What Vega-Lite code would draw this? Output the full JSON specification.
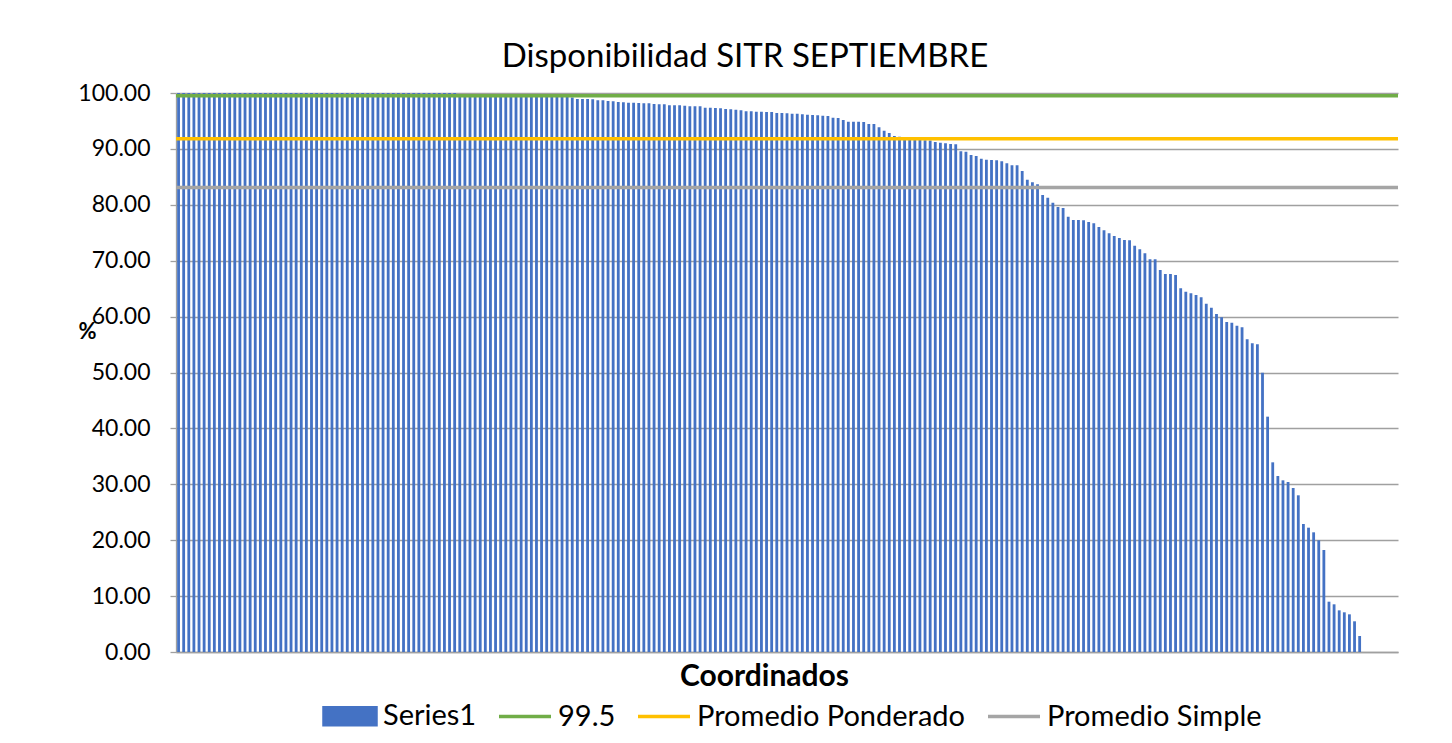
{
  "$schema": "https://vega.github.io/schema/vega-lite/v6.json",
  "autosize": {"type": "none"},
  "width": 1222,
  "height": 559,
  "padding": {"left": 176, "top": 93, "right": 54, "bottom": 91},
  "background": "white",
  "title": {
    "text": "Disponibilidad SITR SEPTIEMBRE",
    "font": "Lato", "fontSize": 33, "fontWeight": "normal", "color": "#000000",
    "anchor": "middle", "dx": -42, "dy": 42, "offset": 24, "baseline": "alphabetic"
  },
  "config": {
    "view": {"stroke": null},
    "axis": {"labelFont": "Lato", "titleFont": "Lato"}
  },
  "datasets": {
    "bars": [
      {"i":1,"v":100},{"i":2,"v":100},{"i":3,"v":100},{"i":4,"v":100},{"i":5,"v":100},{"i":6,"v":100},{"i":7,"v":100},{"i":8,"v":100},{"i":9,"v":100},{"i":10,"v":100},
      {"i":11,"v":100},{"i":12,"v":100},{"i":13,"v":100},{"i":14,"v":100},{"i":15,"v":100},{"i":16,"v":100},{"i":17,"v":100},{"i":18,"v":100},{"i":19,"v":100},{"i":20,"v":100},
      {"i":21,"v":100},{"i":22,"v":100},{"i":23,"v":100},{"i":24,"v":100},{"i":25,"v":100},{"i":26,"v":100},{"i":27,"v":100},{"i":28,"v":100},{"i":29,"v":100},{"i":30,"v":100},
      {"i":31,"v":100},{"i":32,"v":100},{"i":33,"v":100},{"i":34,"v":100},{"i":35,"v":100},{"i":36,"v":100},{"i":37,"v":100},{"i":38,"v":100},{"i":39,"v":100},{"i":40,"v":100},
      {"i":41,"v":100},{"i":42,"v":100},{"i":43,"v":100},{"i":44,"v":100},{"i":45,"v":100},{"i":46,"v":100},{"i":47,"v":100},{"i":48,"v":100},{"i":49,"v":100},{"i":50,"v":100},
      {"i":51,"v":100},{"i":52,"v":100},{"i":53,"v":100},{"i":54,"v":100},{"i":55,"v":100},{"i":56,"v":99.7},{"i":57,"v":99.7},{"i":58,"v":99.7},{"i":59,"v":99.7},{"i":60,"v":99.7},
      {"i":61,"v":99.7},{"i":62,"v":99.7},{"i":63,"v":99.7},{"i":64,"v":99.7},{"i":65,"v":99.7},{"i":66,"v":99.7},{"i":67,"v":99.6},{"i":68,"v":99.6},{"i":69,"v":99.6},{"i":70,"v":99.6},
      {"i":71,"v":99.6},{"i":72,"v":99.6},{"i":73,"v":99.5},{"i":74,"v":99.5},{"i":75,"v":99.5},{"i":76,"v":99.4},{"i":77,"v":99.3},{"i":78,"v":99.2},
      {"i":79,"v":98.93},{"i":80,"v":98.93},{"i":81,"v":98.93},{"i":82,"v":98.9},{"i":83,"v":98.69},{"i":84,"v":98.69},{"i":85,"v":98.57},{"i":86,"v":98.51},{"i":87,"v":98.39},{"i":88,"v":98.33},
      {"i":89,"v":98.27},{"i":90,"v":98.27},{"i":91,"v":98.21},{"i":92,"v":98.15},{"i":93,"v":98.15},{"i":94,"v":98.03},{"i":95,"v":97.97},{"i":96,"v":97.97},{"i":97,"v":97.79},{"i":98,"v":97.79},
      {"i":99,"v":97.79},{"i":100,"v":97.73},{"i":101,"v":97.62},{"i":102,"v":97.62},{"i":103,"v":97.62},{"i":104,"v":97.38},{"i":105,"v":97.38},{"i":106,"v":97.32},{"i":107,"v":97.26},{"i":108,"v":97.14},
      {"i":109,"v":97.08},{"i":110,"v":97.02},{"i":111,"v":96.9},{"i":112,"v":96.72},{"i":113,"v":96.72},{"i":114,"v":96.66},{"i":115,"v":96.66},{"i":116,"v":96.6},{"i":117,"v":96.6},{"i":118,"v":96.42},
      {"i":119,"v":96.42},{"i":120,"v":96.36},{"i":121,"v":96.3},{"i":122,"v":96.3},{"i":123,"v":96.18},{"i":124,"v":96.12},{"i":125,"v":96.06},{"i":126,"v":96.0},{"i":127,"v":95.95},{"i":128,"v":95.89},
      {"i":129,"v":95.59},{"i":130,"v":95.53},{"i":131,"v":95.17},{"i":132,"v":94.87},{"i":133,"v":94.87},{"i":134,"v":94.87},{"i":135,"v":94.81},{"i":136,"v":94.45},{"i":137,"v":94.45},{"i":138,"v":93.86},
      {"i":139,"v":93.26},{"i":140,"v":92.84},{"i":141,"v":92.31},{"i":142,"v":92.19},{"i":143,"v":91.9},{"i":144,"v":91.8},{"i":145,"v":91.7},{"i":146,"v":91.6},{"i":147,"v":91.55},{"i":148,"v":91.5},
      {"i":149,"v":91.23},{"i":150,"v":91.12},{"i":151,"v":91.0},{"i":152,"v":90.88},{"i":153,"v":90.82},{"i":154,"v":89.56},{"i":155,"v":89.5},{"i":156,"v":88.91},{"i":157,"v":88.73},{"i":158,"v":88.25},
      {"i":159,"v":88.07},{"i":160,"v":88.01},{"i":161,"v":87.95},{"i":162,"v":87.78},{"i":163,"v":87.42},{"i":164,"v":87.06},{"i":165,"v":87.06},{"i":166,"v":86.05},{"i":167,"v":84.5},{"i":168,"v":84.02},
      {"i":169,"v":83.66},{"i":170,"v":81.75},{"i":171,"v":81.28},{"i":172,"v":80.38},{"i":173,"v":79.61},{"i":174,"v":79.43},{"i":175,"v":77.88},{"i":176,"v":77.28},{"i":177,"v":77.28},{"i":178,"v":77.22},
      {"i":179,"v":76.92},{"i":180,"v":76.68},{"i":181,"v":76.03},{"i":182,"v":75.43},{"i":183,"v":74.9},{"i":184,"v":74.42},{"i":185,"v":74.06},{"i":186,"v":73.7},{"i":187,"v":73.64},{"i":188,"v":72.69},
      {"i":189,"v":72.03},{"i":190,"v":71.32},{"i":191,"v":70.24},{"i":192,"v":70.24},{"i":193,"v":68.34},{"i":194,"v":67.62},{"i":195,"v":67.62},{"i":196,"v":67.44},{"i":197,"v":65.06},{"i":198,"v":64.46},
      {"i":199,"v":64.16},{"i":200,"v":63.86},{"i":201,"v":63.45},{"i":202,"v":62.31},{"i":203,"v":61.6},{"i":204,"v":60.47},{"i":205,"v":59.87},{"i":206,"v":59.03},{"i":207,"v":58.91},{"i":208,"v":58.38},
      {"i":209,"v":58.08},{"i":210,"v":55.93},{"i":211,"v":55.22},{"i":212,"v":55.04},{"i":213,"v":49.97},{"i":214,"v":42.1},{"i":215,"v":33.93},{"i":216,"v":31.48},{"i":217,"v":30.71},{"i":218,"v":30.41},
      {"i":219,"v":29.34},{"i":220,"v":28.03},{"i":221,"v":22.9},{"i":222,"v":22.24},{"i":223,"v":21.41},{"i":224,"v":19.98},{"i":225,"v":18.25},{"i":226,"v":9.0},{"i":227,"v":8.53},{"i":228,"v":7.45},
      {"i":229,"v":7.1},{"i":230,"v":6.74},{"i":231,"v":5.49},{"i":232,"v":2.86},
      {"i":233,"v":0},{"i":234,"v":0},{"i":235,"v":0},{"i":236,"v":0},{"i":237,"v":0},{"i":238,"v":0},{"i":239,"v":0}
    ],
    "lines": [
      {"serie": "99.5", "v": 99.5},
      {"serie": "Promedio Ponderado", "v": 91.8},
      {"serie": "Promedio Simple", "v": 83.1}
    ]
  },
  "layer": [
    {
      "data": {"name": "bars"},
      "mark": {"type": "bar"},
      "encoding": {
        "x": {
          "field": "i", "type": "ordinal",
          "scale": {"paddingInner": 0.45, "paddingOuter": 0.225},
          "axis": {
            "labels": false, "ticks": false, "domain": true, "domainColor": "#a0a0a0", "domainWidth": 1.3,
            "title": "Coordinados", "titleFontSize": 30, "titleFontWeight": "bold", "titleColor": "#000000",
            "titleX": 588, "titleY": 33, "titleBaseline": "alphabetic", "titleAlign": "center"
          }
        },
        "y": {
          "field": "v", "type": "quantitative",
          "scale": {"domain": [0, 100], "nice": false},
          "axis": {
            "values": [0, 10, 20, 30, 40, 50, 60, 70, 80, 90, 100],
            "format": ".2f", "grid": true, "gridColor": "#a0a0a0", "gridWidth": 1.3,
            "domain": true, "domainColor": "#a0a0a0", "domainWidth": 1.3,
            "ticks": true, "tickSize": 6, "tickColor": "#a0a0a0", "tickWidth": 1.3,
            "labelFontSize": 23, "labelColor": "#000000", "labelPadding": 20,
            "title": "%", "titleAngle": 0, "titleFontSize": 22, "titleFontWeight": "bold", "titleColor": "#000000",
            "titleX": -89, "titleY": 245, "titleAlign": "center", "titleBaseline": "alphabetic"
          }
        },
        "color": {
          "datum": "Series1", "type": "nominal", "title": null,
          "scale": {
            "domain": ["Series1", "99.5", "Promedio Ponderado", "Promedio Simple"],
            "range": ["#4472C4", "#70AD47", "#FFC000", "#A5A5A5"]
          },
          "legend": {
            "orient": "none", "legendX": 146, "legendY": 595, "direction": "horizontal", "title": null,
            "labelFont": "Lato", "labelFontSize": 29, "labelColor": "#000000", "labelOffset": 5, "labelLimit": 500,
            "columnPadding": 15, "symbolSize": 2704, "symbolType": "stroke", "symbolStrokeWidth": 3.5,
            "encode": {
              "symbols": {
                "update": {
                  "shape": {"signal": "datum.value === 'Series1' ? 'M-1,-0.33H1V0.33H-1Z' : 'stroke'"},
                  "fill": {"signal": "datum.value === 'Series1' ? '#4472C4' : 'transparent'"},
                  "stroke": {"signal": "datum.value === 'Series1' ? 'transparent' : scale('color', datum.value)"},
                  "strokeWidth": {"value": 3.5},
                  "opacity": {"value": 1}
                }
              }
            }
          }
        }
      }
    },
    {
      "data": {"name": "lines"},
      "mark": {"type": "rule", "strokeWidth": 3.5},
      "encoding": {
        "y": {"field": "v", "type": "quantitative"},
        "color": {"field": "serie", "type": "nominal", "title": null}
      }
    }
  ]
}
